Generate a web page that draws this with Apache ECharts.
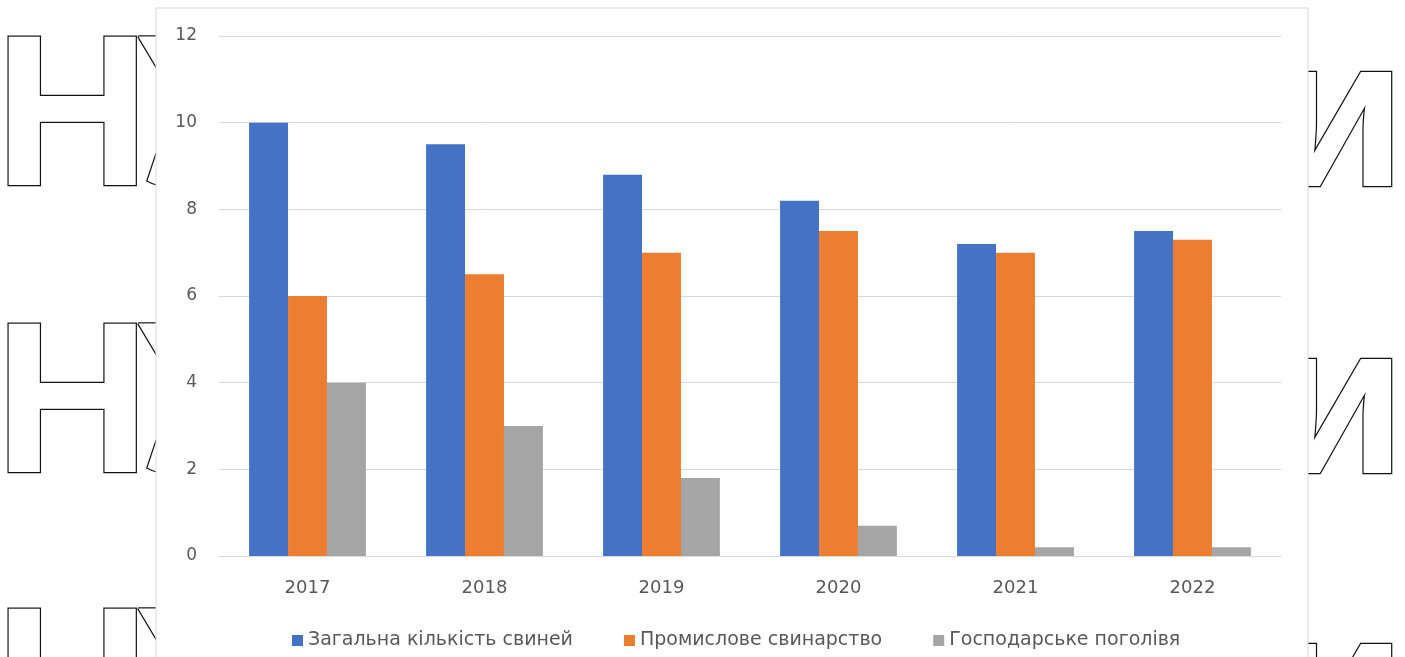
<!DOCTYPE html>
<html>
<head>
<meta charset="utf-8">
<style>
  html, body { margin: 0; padding: 0; background: #ffffff; }
  #chart { width: 1405px; height: 657px; }
</style>
<script src="https://cdn.jsdelivr.net/npm/echarts@6/dist/echarts.min.js"></script>
</head>
<body>
<div id="chart"></div>
<script>
// Поголів'я свиней, млн голів
const years = ['2017', '2018', '2019', '2020', '2021', '2022'];
const totalPigs = [10, 9.5, 8.8, 8.2, 7.2, 7.5];
const industrialPigs = [6, 6.5, 7, 7.5, 7, 7.3];
const householdPigs = [4, 3, 1.8, 0.7, 0.2, 0.2];
const seriesNames = ['Загальна кількість свиней', 'Промислове свинарство', 'Господарське поголівя'];
const seriesColors = ['#4472C4', '#ED7D31', '#A5A5A5'];

const chart = echarts.init(document.getElementById('chart'), null, { renderer: 'canvas' });

// Outlined lettering behind the chart panel
const letterFont = 'bold 216px "Liberation Sans", Arial, sans-serif';
const rowsTop = [35, 322, 607];
const outline = { fill: '#ffffff', stroke: '#111111', lineWidth: 2.5 };
const bgLetters = [];
rowsTop.forEach(function (top) {
  bgLetters.push({
    type: 'text', left: -7, top: top - 19, z: -3,
    style: Object.assign({ text: 'Н', font: letterFont }, outline)
  });
  bgLetters.push({
    type: 'text', left: 137, top: top - 19, z: -3,
    style: Object.assign({ text: 'У', font: letterFont }, outline)
  });
  bgLetters.push({
    type: 'text', left: 1272, top: top - 18, z: -3,
    style: Object.assign({ text: 'и', font: letterFont }, outline)
  });
});

const labelFont = '"DejaVu Sans", "Noto Sans", sans-serif';

const barCommon = { type: 'bar', barGap: '0%', barCategoryGap: '34%' };

chart.setOption({
  animation: false,
  backgroundColor: '#ffffff',
  graphic: bgLetters.concat([
    {
      type: 'rect', z: -1,
      shape: { x: 156, y: 8, width: 1152, height: 700 },
      style: { fill: '#ffffff', stroke: '#d9d9d9', lineWidth: 1 }
    }
  ]),
  legend: {
    top: 626,
    left: 287,
    itemWidth: 11,
    itemHeight: 11,
    itemGap: 51,
    icon: 'rect',
    textStyle: { color: '#595959', fontSize: 19, fontFamily: labelFont },
    data: seriesNames
  },
  grid: { left: 219, right: 124, top: 36, bottom: 101 },
  xAxis: {
    type: 'category',
    data: years,
    axisLine: { lineStyle: { color: '#d9d9d9' } },
    axisTick: { show: false },
    axisLabel: { color: '#595959', fontSize: 18, fontFamily: labelFont, margin: 23 }
  },
  yAxis: {
    type: 'value',
    min: 0, max: 12, interval: 2,
    axisLine: { show: false },
    axisTick: { show: false },
    splitLine: { lineStyle: { color: '#d9d9d9' } },
    axisLabel: { color: '#595959', fontSize: 17, fontFamily: labelFont, margin: 22 }
  },
  series: [
    Object.assign({ name: seriesNames[0], data: totalPigs, itemStyle: { color: seriesColors[0] } }, barCommon),
    Object.assign({ name: seriesNames[1], data: industrialPigs, itemStyle: { color: seriesColors[1] } }, barCommon),
    Object.assign({ name: seriesNames[2], data: householdPigs, itemStyle: { color: seriesColors[2] } }, barCommon)
  ]
});
</script>
</body>
</html>
